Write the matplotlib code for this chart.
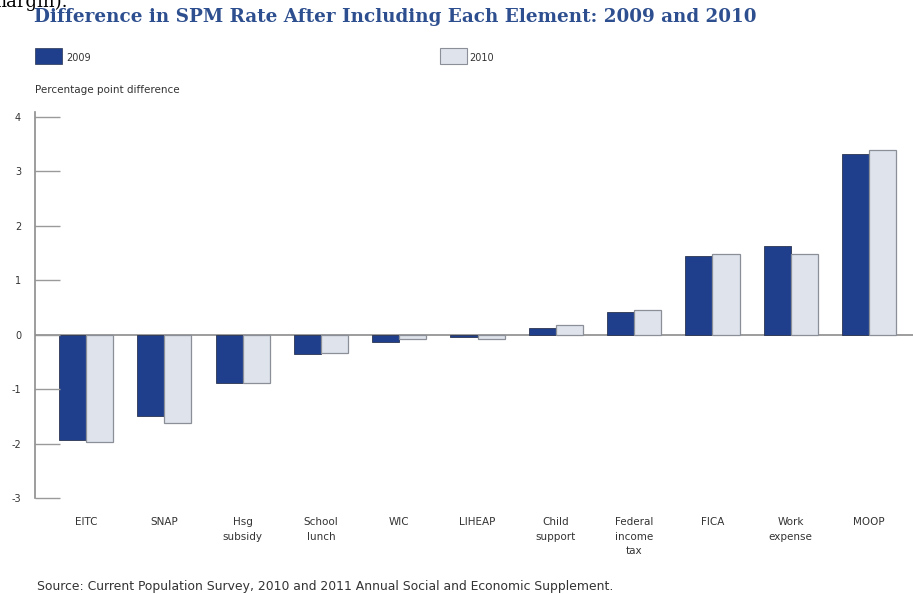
import numpy as np
import matplotlib.pyplot as plt

categories = ['EITC', 'SNAP', 'Hsg\nsubsidy', 'School\nlunch', 'WIC', 'LIHEAP',
              'Child\nsupport', 'Federal\nincome\ntax', 'FICA', 'Work\nexpense', 'MOOP']
rate_2009 = [-1.94, -1.50, -0.88, -0.35, -0.13, -0.05, 0.13, 0.42, 1.45, 1.63, 3.32]
rate_2010 = [-1.98, -1.62, -0.88, -0.33, -0.07, -0.07, 0.17, 0.46, 1.48, 1.48, 3.40]
yticks = [4, 3, 2, 1, 0, -1, -2, -3]

dark = '#1f3f8c'
light = '#dfe4ec'
navy_text = '#2e4f8f'

fig = plt.figure(figsize=(9.13, 5.94), dpi=100)
ax = fig.add_axes([0.0383, 0.1616, 0.9617, 0.6414])

x = np.arange(len(categories))
w = 0.345
ax.bar(x - w / 2, rate_2009, w, color=dark, edgecolor='#2a3550', linewidth=0.6)
ax.bar(x + w / 2, rate_2010, w, color=light, edgecolor='#8a8f98', linewidth=0.9)
ax.axhline(0, color='#8c8c8c', linewidth=1.2, zorder=0)

ax.set_xlim(-0.65, 10.56)
ax.set_ylim(-3, 4)
ax.set_yticks(yticks)
ax.set_yticklabels([str(t) for t in yticks], fontsize=7, color='#333333')
ax.tick_params(axis='y', direction='in', length=18, width=1, color='#9a9a9a', pad=10)
ax.set_xticks(x)
ax.set_xticklabels(categories, fontsize=7.5, color='#333333', linespacing=1.55)
ax.tick_params(axis='x', length=0, pad=14)
for s in ['top', 'right', 'bottom']:
    ax.spines[s].set_visible(False)
ax.spines['left'].set_color('#8c8c8c')
ax.spines['left'].set_linewidth(1.2)
ax.spines['left'].set_bounds(-3, 4.1)

# header, legend and notes
fig.text(-0.012, 1 - 7 / 594, 'margin).', fontsize=13, family='DejaVu Serif',
         va='baseline', ha='left')
fig.text(0.037, 0.971, 'Difference in SPM Rate After Including Each Element: 2009 and 2010',
         fontsize=13.2, fontweight='bold', family='DejaVu Serif', color=navy_text,
         va='center', ha='left')
fig.patches.append(plt.Rectangle((0.0383, 0.892), 0.03, 0.027, transform=fig.transFigure,
                                 facecolor=dark, edgecolor='#2a3550', lw=0.5))
fig.text(0.0723, 0.902, '2009', fontsize=7, color='#333333', va='center')
fig.patches.append(plt.Rectangle((0.482, 0.892), 0.03, 0.027, transform=fig.transFigure,
                                 facecolor=light, edgecolor='#8a8f98', lw=0.8))
fig.text(0.5145, 0.902, '2010', fontsize=7, color='#333333', va='center')
fig.text(0.0383, 0.848, 'Percentage point difference', fontsize=7.5, color='#333333', va='center')
fig.text(0.041, 0.012, 'Source: Current Population Survey, 2010 and 2011 Annual Social and Economic Supplement.',
         fontsize=8.9, color='#333333', va='center')

fig.savefig('out.png', dpi=100)
